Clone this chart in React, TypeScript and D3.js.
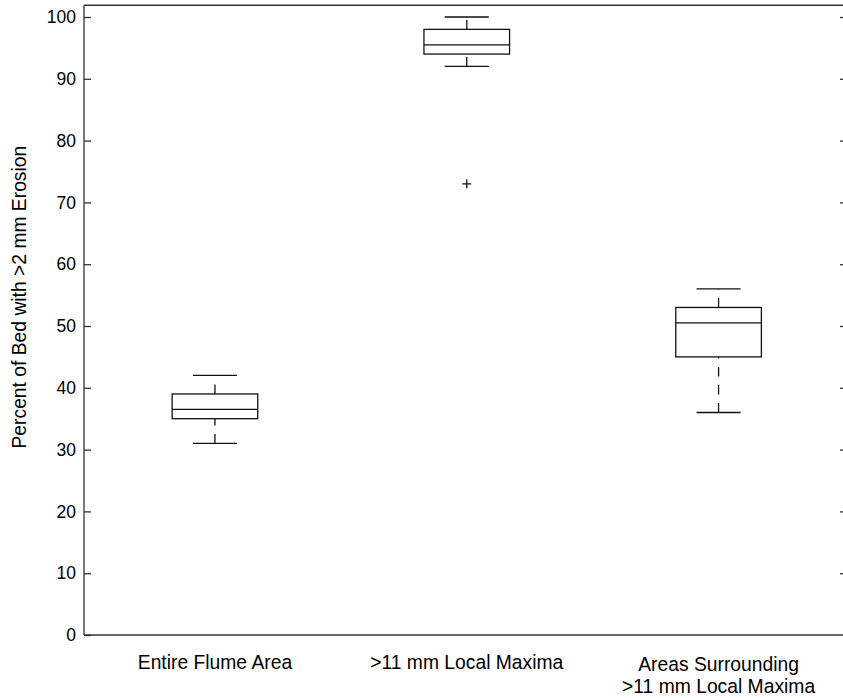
import * as d3 from 'd3'
import React, { useEffect, useRef } from 'react'

// box statistics, one entry per group
const groupLabels = [
  ['Entire Flume Area'],
  ['>11 mm Local Maxima'],
  ['Areas Surrounding', '>11 mm Local Maxima'],
]
const whiskerLow = [31, 92, 36]
const quartile1 = [35, 94, 45]
const medians = [36.5, 95.5, 50.5]
const quartile3 = [39, 98, 53]
const whiskerHigh = [42, 100, 56]
const outliers = [[], [73], []]
const yTicks = [0, 10, 20, 30, 40, 50, 60, 70, 80, 90, 100]

const W = 843
const H = 698
const font = '"Liberation Sans", Arial, Helvetica, sans-serif'

export default function App() {
  const svgRef = useRef<SVGSVGElement>(null)

  useEffect(() => {
    const svg = d3.select(svgRef.current)
    svg.selectAll('*').remove()

    const x = d3.scaleLinear().domain([0.48, 3.51]).range([84, 847])
    const y = d3.scaleLinear().domain([0, 100]).range([635, 17])
    const top = y(101.9)
    const boxHalf = 0.17
    const capHalf = 0.0875
    const ink = '#111'

    // frame: left, top, bottom (right edge falls off the page)
    const frame = svg.append('g').attr('fill', 'none').attr('stroke', '#333').attr('stroke-width', 1.3)
    frame.append('line').attr('x1', x(0.48)).attr('x2', x(0.48)).attr('y1', top).attr('y2', y(0))
    frame.append('line').attr('x1', x(0.48)).attr('x2', W).attr('y1', top).attr('y2', top)
    frame.append('line').attr('x1', x(0.48)).attr('x2', W).attr('y1', y(0)).attr('y2', y(0))

    const left = svg
      .append('g')
      .attr('transform', `translate(${x(0.48)},0)`)
      .call(d3.axisLeft(y).tickValues(yTicks).tickSize(-7).tickPadding(8).tickFormat(d3.format('d')))
    left.select('.domain').remove()
    left.selectAll('line').attr('stroke', '#333').attr('stroke-width', 1.3)
    left.selectAll('text').attr('font-family', font).attr('font-size', 17.5).attr('fill', '#000')

    const right = svg
      .append('g')
      .attr('transform', `translate(${x(3.51)},0)`)
      .call(d3.axisRight(y).tickValues(yTicks.slice(1)).tickSize(-7).tickFormat(() => ''))
    right.select('.domain').remove()
    right.selectAll('line').attr('stroke', '#333').attr('stroke-width', 1.3)

    const boxes = svg
      .append('g')
      .attr('fill', 'none')
      .attr('stroke', ink)
      .attr('stroke-width', 1.3)
      .selectAll('g')
      .data(groupLabels.map((_, i) => i))
      .join('g')

    boxes
      .append('rect')
      .attr('x', (i) => x(i + 1 - boxHalf))
      .attr('width', x(1 + boxHalf) - x(1 - boxHalf))
      .attr('y', (i) => y(quartile3[i]))
      .attr('height', (i) => y(quartile1[i]) - y(quartile3[i]))
    boxes
      .append('line')
      .attr('x1', (i) => x(i + 1 - boxHalf))
      .attr('x2', (i) => x(i + 1 + boxHalf))
      .attr('y1', (i) => y(medians[i]))
      .attr('y2', (i) => y(medians[i]))
    // whiskers: lower drawn from min upward, upper from q3 upward
    boxes
      .append('line')
      .attr('stroke-dasharray', '9.4 8.6')
      .attr('x1', (i) => x(i + 1))
      .attr('x2', (i) => x(i + 1))
      .attr('y1', (i) => y(whiskerLow[i]))
      .attr('y2', (i) => y(quartile1[i]))
    boxes
      .append('line')
      .attr('stroke-dasharray', '9.4 8.6')
      .attr('x1', (i) => x(i + 1))
      .attr('x2', (i) => x(i + 1))
      .attr('y1', (i) => y(quartile3[i]))
      .attr('y2', (i) => y(whiskerHigh[i]))
    boxes
      .append('line')
      .attr('x1', (i) => x(i + 1 - capHalf))
      .attr('x2', (i) => x(i + 1 + capHalf))
      .attr('y1', (i) => y(whiskerLow[i]))
      .attr('y2', (i) => y(whiskerLow[i]))
    boxes
      .append('line')
      .attr('x1', (i) => x(i + 1 - capHalf))
      .attr('x2', (i) => x(i + 1 + capHalf))
      .attr('y1', (i) => y(whiskerHigh[i]))
      .attr('y2', (i) => y(whiskerHigh[i]))
    boxes
      .selectAll('path')
      .data((i) => outliers[i].map((v) => [i, v]))
      .join('path')
      .attr('d', ([i, v]) => {
        const cx = x(i + 1)
        const cy = y(v)
        return `M${cx - 4.5},${cy}H${cx + 4.5}M${cx},${cy - 4.5}V${cy + 4.5}`
      })

    svg
      .append('g')
      .attr('font-family', font)
      .attr('font-size', 19.3)
      .attr('fill', '#000')
      .attr('text-anchor', 'middle')
      .selectAll('text')
      .data(groupLabels)
      .join('text')
      .attr('transform', (d, i) => `translate(${x(i + 1)},${669 + (d.length - 1) * 2})`)
      .selectAll('tspan')
      .data((d) => d)
      .join('tspan')
      .attr('x', 0)
      .attr('y', (d, j) => j * 22)
      .text((d) => d)

    svg
      .append('text')
      .attr('transform', `translate(26,${(top + y(0)) / 2 - 23}) rotate(-90)`)
      .attr('font-family', font)
      .attr('font-size', 19.3)
      .attr('fill', '#000')
      .attr('text-anchor', 'middle')
      .text('Percent of Bed with >2 mm Erosion')
  }, [])

  return (
    <div style={{ position: 'absolute', left: 0, top: 0 }}>
      <svg ref={svgRef} width={W} height={H} style={{ display: 'block', background: '#fff' }} />
    </div>
  )
}
